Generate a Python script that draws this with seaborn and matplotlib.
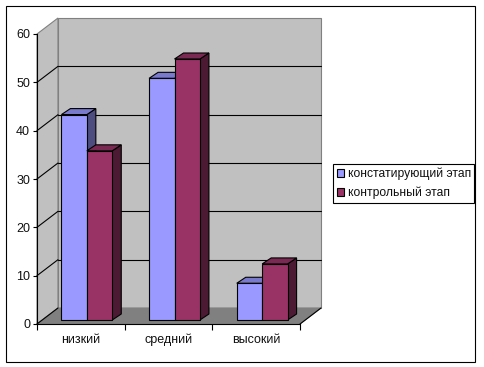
#!/usr/bin/env python3

import pandas as pd
import seaborn as sns
import matplotlib
matplotlib.use('Agg')
import matplotlib.pyplot as plt
from matplotlib.patches import Polygon, Rectangle
from matplotlib.lines import Line2D
from matplotlib.transforms import Affine2D, IdentityTransform

categories = ['низкий', 'средний', 'высокий']
series_names = ['констатирующий этап', 'контрольный этап']
stage_one = [42.5, 50, 7.6]
stage_two = [35, 54, 11.6]
y_ticks = [0, 10, 20, 30, 40, 50, 60]

# colours of one bar: front, top, side
bar_colors = {
    series_names[0]: ('#9999FF', '#7A7ACC', '#4D4D80'),
    series_names[1]: ('#993366', '#7A2952', '#4D1A33'),
}

W, H = 484, 367
WALL_DX, WALL_DY = 21, 16   # depth of the box, pixels
BAR_SHIFT = (6, 4)          # bars stand a bit behind the front plane
BAR_DX, BAR_DY = 9, 6       # depth of a bar
LW = 0.8                    # about one pixel at dpi 100

df = pd.DataFrame({
    'cat': categories * 2,
    'stage': [series_names[0]] * 3 + [series_names[1]] * 3,
    'val': stage_one + stage_two,
})

sns.set_theme(style='white')
plt.rcParams['font.family'] = ['Liberation Sans', 'DejaVu Sans']

fig = plt.figure(figsize=(W / 100, H / 100), dpi=100)
ax = fig.add_axes([37 / W, (H - 324) / H, 263 / W, 290 / H])
ax.set_facecolor('none')

palette = {k: v[0] for k, v in bar_colors.items()}
sns.barplot(data=df, x='cat', y='val', hue='stage', hue_order=series_names, order=categories,
            palette=palette, width=0.58, gap=0, saturation=1, legend=False, ax=ax)
ax.set_xlim(-0.5, 2.5)
ax.set_ylim(0, 60)
ax.set_xlabel('')
ax.set_ylabel('')


def px(x, v):
    # data -> display pixels
    return ax.transData.transform((x, v))


def face(points, fc, ec='black', lw=LW, z=1):
    ax.add_patch(Polygon(points, closed=True, facecolor=fc, edgecolor=ec, linewidth=lw,
                         transform=IdentityTransform(), clip_on=False, zorder=z))


def seg(p, q, color='black', lw=LW, z=1):
    ax.add_line(Line2D([p[0], q[0]], [p[1], q[1]], color=color, linewidth=lw,
                       transform=IdentityTransform(), clip_on=False, zorder=z))


# box: side wall, back wall, floor
x0, x1 = -0.5, 2.5
a, b = px(x0, 0), px(x1, 0)
c, d = px(x0, y_ticks[-1]), px(x1, y_ticks[-1])
back = (WALL_DX, WALL_DY)


def go_back(p):
    return (p[0] + back[0], p[1] + back[1])


face([a, go_back(a), go_back(c), c], '#C0C0C0', ec='#808080', z=0.1)
face([go_back(a), go_back(b), go_back(d), go_back(c)], '#C0C0C0', ec='#808080', z=0.1)
face([a, b, go_back(b), go_back(a)], '#808080', ec='#808080', z=0.2)
seg(a, go_back(a), z=0.3)
seg(b, go_back(b), z=0.3)

for t in y_ticks[1:-1]:
    p, q = px(x0, t), px(x1, t)
    seg(p, go_back(p), z=0.3)
    seg(go_back(p), go_back(q), z=0.3)

# bars: move the front face back, add top and side
shift = Affine2D().translate(*BAR_SHIFT)
for i, name in enumerate(series_names):
    for bar in ax.containers[i]:
        bar.set_transform(ax.transData + shift)
        bar.set_edgecolor('black')
        bar.set_linewidth(LW)
        bar.set_clip_on(False)

# left to right, so each bar covers the side of the previous one
z = 2
for k in range(len(categories)):
    for i, name in enumerate(series_names):
        bar = ax.containers[i][k]
        left, right = bar.get_x(), bar.get_x() + bar.get_width()
        top = bar.get_height()
        br = px(right, 0) + BAR_SHIFT
        tl = px(left, top) + BAR_SHIFT
        tr = px(right, top) + BAR_SHIFT
        front, top_c, side_c = bar_colors[name]
        face([br, (br[0] + BAR_DX, br[1] + BAR_DY), (tr[0] + BAR_DX, tr[1] + BAR_DY), tr], side_c, z=z)
        face([tl, tr, (tr[0] + BAR_DX, tr[1] + BAR_DY), (tl[0] + BAR_DX, tl[1] + BAR_DY)], top_c, z=z)
        bar.set_zorder(z + 0.1)
        z += 1

sns.despine(ax=ax)
for side in ['left', 'bottom']:
    ax.spines[side].set_color('black')
    ax.spines[side].set_linewidth(LW)
    ax.spines[side].set_zorder(1.5)

ax.set_yticks(y_ticks)
ax.tick_params(axis='y', left=True, length=3, width=LW, color='black', pad=2, labelsize=9, labelcolor='#111111')
# ticks sit between the categories, labels under them
ax.set_xticks([-0.5, 0.5, 1.5, 2.5])
ax.set_xticklabels([])
ax.set_xticks([0, 1, 2], labels=categories, minor=True)
ax.tick_params(axis='x', which='major', bottom=True, length=4, width=LW, color='black')
ax.tick_params(axis='x', which='minor', bottom=False, length=0, pad=7, labelsize=9, labelcolor='#111111')
for lab in ax.get_xticklabels(minor=True):
    lab.set_x(lab.get_position()[0])

handles = [Rectangle((0, 0), 1, 1, facecolor=bar_colors[n][0], edgecolor='black', linewidth=LW)
           for n in series_names]
leg = ax.legend(handles, series_names, loc='center left',
                bbox_to_anchor=(333 / W, (H - 183.5) / H), bbox_transform=fig.transFigure,
                fontsize=8.7, frameon=True, fancybox=False, framealpha=1, edgecolor='black',
                handlelength=0.6, handleheight=0.6, handletextpad=0.3,
                labelspacing=0.5, borderpad=0.3, borderaxespad=0, labelcolor='#111111')
leg.get_frame().set_linewidth(LW)
leg.set_zorder(20)

# outer frame
fig.add_artist(Rectangle((5.5 / W, (H - 362) / H), 469 / W, 356.5 / H, transform=fig.transFigure,
                         fill=False, edgecolor='black', linewidth=LW))

fig.savefig('out.png', dpi=100, facecolor='white')
